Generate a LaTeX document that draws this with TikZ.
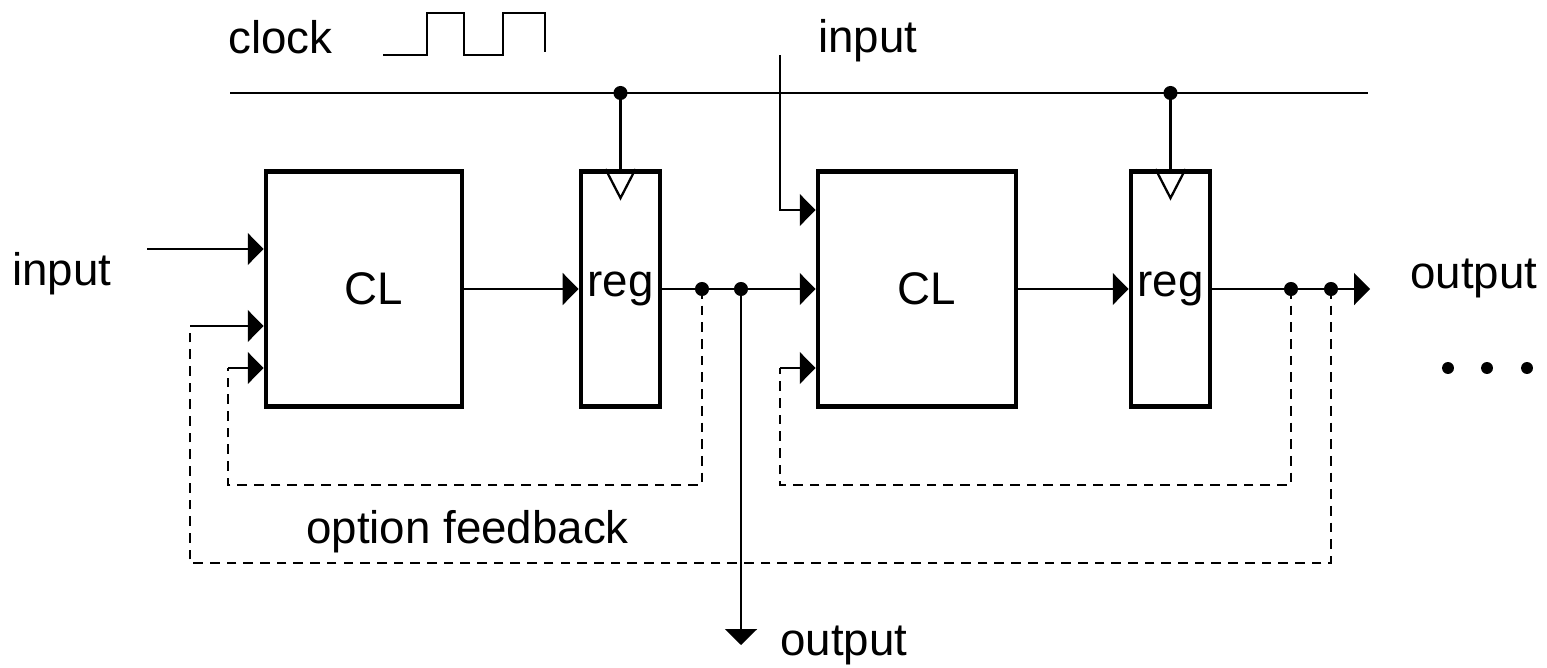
\documentclass[tikz,border=0pt]{standalone}
\usepackage{fontspec}
\setmainfont{Liberation Sans}
\usetikzlibrary{arrows.meta}

\begin{document}
\begin{tikzpicture}[x=0.02cm,y=-0.02cm,
    wire/.style={line width=1.3pt},
    fb/.style={line width=1.5pt,dash pattern=on 5.5pt off 4pt},
    arr/.style={wire,-{Triangle[length=9pt,width=18pt]}},
    lbl/.style={font=\fontsize{26}{30}\selectfont,inner sep=0pt},
    block/.style={draw,line width=2.8pt,minimum height=4.7cm,lbl}]
\useasboundingbox (0,0) rectangle (1547,667);

% 时钟
\coordinate (clkL) at (230,93);
\coordinate (clkR) at (1368,93);
\draw[wire] (clkL) -- (clkR);
\node[lbl,anchor=base west] (clk) at (228,53) {clock};
\draw[wire] (383,55) -- (427,55) -- (427,13) -- (464,13) -- (464,55) -- (503,55) -- (503,13) -- (545,13) -- (545,52);

% 组合逻辑与寄存器
\node[block,minimum width=3.92cm,text width=3.5cm,align=center] (cl1) at (364,289) {\hspace*{0.4cm}CL};
\node[block,minimum width=1.58cm] (reg1) at (620.5,289) {reg};
\node[block,minimum width=3.96cm,text width=3.5cm,align=center] (cl2) at (917,289) {\hspace*{0.4cm}CL};
\node[block,minimum width=1.58cm] (reg2) at (1170.5,289) {reg};

\foreach \r in {reg1,reg2} {
  \draw[wire] (\r.north |- clkL) -- (\r.north);
  \fill (\r.north |- clkL) circle (4pt);
  \draw[wire] (\r.north) ++(-15,0) -- ++(15,29) -- ++(15,-29);
}

% 输入
\coordinate (inL) at (147,249);
\draw[arr] (inL) -- (inL -| cl1.west);
\node[lbl,anchor=base west] (inLtxt) at (12,285) {input};
\coordinate (inT) at (780,55);
\coordinate (inTc) at (780,210);
\draw[arr] (inT) -- (inTc) -- (inTc -| cl2.west);
\node[lbl,anchor=base west] (inTtxt) at (818,52) {input};

% 数据通路
\coordinate (fbA) at (702,289);
\coordinate (outA) at (741,289);
\coordinate (outEnd) at (741,645);
\coordinate (fbC) at (1291,289);
\coordinate (fbD) at (1331,289);
\coordinate (outR) at (1370,289);
\draw[arr] (cl1.east) -- (reg1.west);
\draw[arr] (reg1.east) -- (cl2.west);
\draw[arr] (cl2.east) -- (reg2.west);
\draw[arr] (reg2.east) -- (outR);
\draw[arr] (outA) -- (outEnd);
\foreach \p in {fbA,outA,fbC,fbD} \fill (\p) circle (4pt);
\node[lbl,anchor=base west] (outBtxt) at (780,655) {output};
\node[lbl,anchor=base west] (outRtxt) at (1410,288) {output};

% 反馈（可选）
\coordinate (fbAin) at (228,368);
\coordinate (fbCin) at (780,368);
\coordinate (fbDin) at (190,326);
\draw[fb] (fbA) -- ++(0,196) -| (fbAin);
\draw[fb] (fbC) -- ++(0,196) -| (fbCin);
\draw[fb] (fbD) -- ++(0,274) -| (fbDin);
\draw[arr] (fbAin) -- (fbAin -| cl1.west);
\draw[arr] (fbDin) -- (fbDin -| cl1.west);
\draw[arr] (fbCin) -- (fbCin -| cl2.west);
\node[lbl,anchor=base west] (fbtxt) at (306,543) {option feedback};

\foreach \x in {1448,1487,1527} \fill (\x,368) circle (3.4pt);

\end{tikzpicture}
\end{document}
